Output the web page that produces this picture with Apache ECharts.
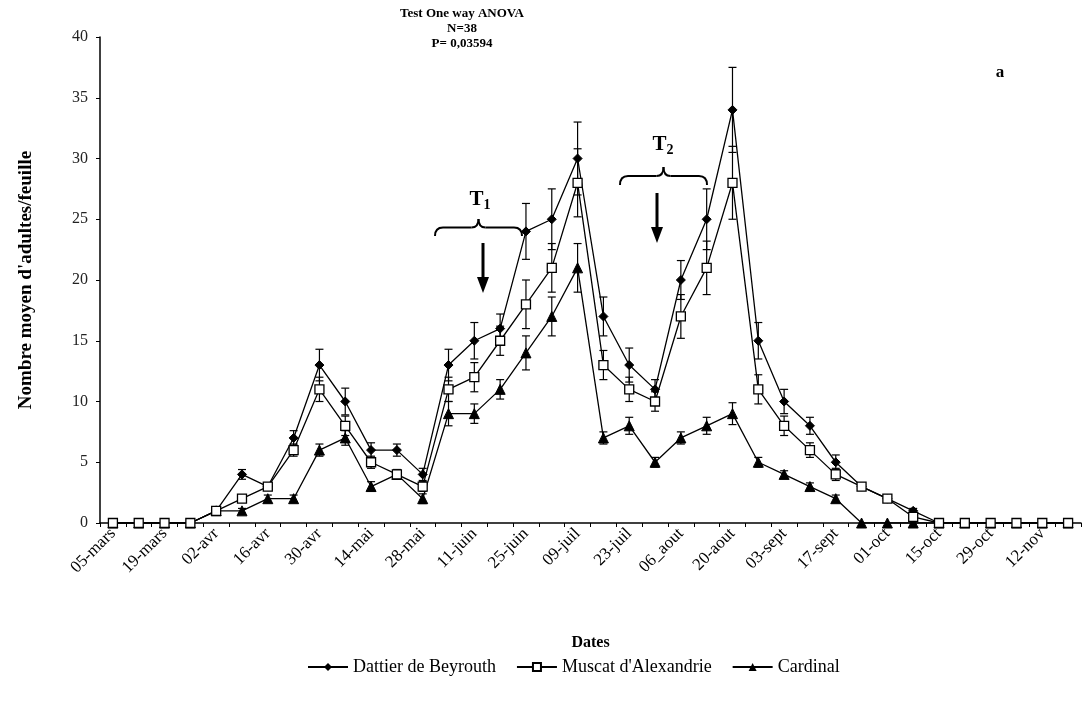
<!DOCTYPE html>
<html>
<head>
<meta charset="utf-8">
<script src="https://cdn.jsdelivr.net/npm/echarts@6/dist/echarts.min.js"></script>
<style>
html,body{margin:0;padding:0;background:#fff;}
#chart{width:1085px;height:702px;}
</style>
</head>
<body>
<div id="chart"></div>
<script>
const categories = ['05-mars','12-mars','19-mars','26-mars','02-avr','09-avr','16-avr','23-avr','30-avr','07-mai','14-mai','21-mai','28-mai','04-juin','11-juin','18-juin','25-juin','02-juil','09-juil','16-juil','23-juil','30-juil','06_aout','13-aout','20-aout','27-aout','03-sept','10-sept','17-sept','24-sept','01-oct','08-oct','15-oct','22-oct','29-oct','05-nov','12-nov','19-nov'];
const seriesNames = ['Dattier de Beyrouth', "Muscat d'Alexandrie", 'Cardinal'];
const dattier = [0,0,0,0,1,4,3,7,13,10,6,6,4,13,15,16,24,25,30,17,13,11,20,25,34,15,10,8,5,3,2,1,0,0,0,0,0,0];
const muscat = [0,0,0,0,1,2,3,6,11,8,5,4,3,11,12,15,18,21,28,13,11,10,17,21,28,11,8,6,4,3,2,0.5,0,0,0,0,0,0];
const cardinal = [0,0,0,0,1,1,2,2,6,7,3,4,2,9,9,11,14,17,21,7,8,5,7,8,9,5,4,3,2,0,0,0,0,0,0,0,0,0];
const dattierErr = [0,0,0,0,0.2,0.4,0.3,0.6,1.3,1.1,0.6,0.5,0.5,1.3,1.5,1.2,2.3,2.5,3,1.6,1.4,0.8,1.6,2.5,3.5,1.5,1,0.7,0.6,0.3,0.2,0.2,0,0,0,0,0,0];
const muscatErr = [0,0,0,0,0.2,0.3,0.3,0.5,1,0.8,0.5,0.4,0.4,1,1.2,1.2,2,2,2.8,1.2,1,0.8,1.8,2.2,3,1.2,0.8,0.6,0.5,0.3,0.2,0.1,0,0,0,0,0,0];
const cardinalErr = [0,0,0,0,0.2,0.2,0.3,0.3,0.5,0.6,0.4,0.4,0.4,1,0.8,0.8,1.4,1.6,2,0.5,0.7,0.4,0.5,0.7,0.9,0.4,0.3,0.3,0.3,0,0,0,0,0,0,0,0,0];
const yTicks = {min:0, max:40, interval:5};
const titleLines = ['Test One way ANOVA','N=38','P= 0,03594'];

const FONT = '"Liberation Serif","Times New Roman",serif';
const chart = echarts.init(document.getElementById('chart'), null, {renderer:'canvas'});

function errSeries(vals, errs){
  return {
    type:'custom',
    z:2,
    silent:true,
    encode:{x:0,y:1},
    data: vals.map((v,i)=>[i,v,errs[i]]),
    renderItem:function(params, api){
      const i = api.value(0), v = api.value(1), e = api.value(2);
      if(!e) return null;
      const top = api.coord([i, v+e]);
      const bot = api.coord([i, v-e]);
      const hw = 4;
      const st = {stroke:'#000', lineWidth:1.2};
      return {type:'group', children:[
        {type:'line', shape:{x1:top[0],y1:top[1],x2:bot[0],y2:bot[1]}, style:st},
        {type:'line', shape:{x1:top[0]-hw,y1:top[1],x2:top[0]+hw,y2:top[1]}, style:st},
        {type:'line', shape:{x1:bot[0]-hw,y1:bot[1],x2:bot[0]+hw,y2:bot[1]}, style:st}
      ]};
    }
  };
}

function brace(x0,x1,yPeak,yEnd){
  const xm=(x0+x1)/2, ym=(yPeak+yEnd)/2;
  const st={stroke:'#000', lineWidth:2, fill:null};
  return [
    {type:'bezierCurve', shape:{x1:x0,y1:yEnd,x2:x0+8,y2:ym,cpx1:x0,cpy1:ym}, style:st},
    {type:'line', shape:{x1:x0+8,y1:ym,x2:xm-7,y2:ym}, style:st},
    {type:'bezierCurve', shape:{x1:xm-7,y1:ym,x2:xm,y2:yPeak,cpx1:xm,cpy1:ym}, style:st},
    {type:'bezierCurve', shape:{x1:xm,y1:yPeak,x2:xm+7,y2:ym,cpx1:xm,cpy1:ym}, style:st},
    {type:'line', shape:{x1:xm+7,y1:ym,x2:x1-8,y2:ym}, style:st},
    {type:'bezierCurve', shape:{x1:x1-8,y1:ym,x2:x1,y2:yEnd,cpx1:x1,cpy1:ym}, style:st}
  ];
}

const lineStyleBase = {color:'#000', width:1.3};
const subRich = {t:{fontFamily:FONT, fontSize:21, fontWeight:'bold'}, s:{fontFamily:FONT, fontSize:14, fontWeight:'bold', padding:[10,0,0,0]}};
const option = {
  backgroundColor:'#fff',
  animation:false,
  grid:{left:100, right:4, top:37, bottom:179, containLabel:false},
  legend:{
    data:seriesNames,
    top:653, left:302,
    itemWidth:40, itemHeight:10, itemGap:20,
    textStyle:{fontFamily:FONT, fontSize:18, color:'#000'}
  },
  xAxis:{
    type:'category',
    data:categories,
    boundaryGap:true,
    name:'Dates',
    nameLocation:'middle',
    nameGap:112,
    nameTextStyle:{fontFamily:FONT, fontSize:16, fontWeight:'bold', color:'#000'},
    axisLine:{lineStyle:{color:'#000', width:1.5}},
    axisTick:{show:true, interval:0, length:4, lineStyle:{color:'#000'}},
    axisLabel:{interval:1, rotate:45, fontFamily:FONT, fontSize:17, color:'#000', margin:8}
  },
  yAxis:{
    type:'value',
    min:yTicks.min, max:yTicks.max, interval:yTicks.interval,
    name:"Nombre moyen d'adultes/feuille",
    nameLocation:'middle',
    nameGap:64,
    nameTextStyle:{fontFamily:FONT, fontSize:19, fontWeight:'bold', color:'#000'},
    axisLine:{show:true, lineStyle:{color:'#000', width:1.5}},
    axisTick:{show:true, length:4, lineStyle:{color:'#000'}},
    splitLine:{show:false},
    axisLabel:{fontFamily:FONT, fontSize:16, color:'#222', margin:12}
  },
  series:[
    errSeries(dattier, dattierErr),
    errSeries(muscat, muscatErr),
    errSeries(cardinal, cardinalErr),
    {name:seriesNames[0], type:'line', z:4, data:dattier, symbol:'diamond', symbolSize:9,
      lineStyle:lineStyleBase, itemStyle:{color:'#000', borderColor:'#000'}},
    {name:seriesNames[1], type:'line', z:5, data:muscat, symbol:'rect', symbolSize:9,
      lineStyle:lineStyleBase, itemStyle:{color:'#fff', borderColor:'#000', borderWidth:1.3}},
    {name:seriesNames[2], type:'line', z:3, data:cardinal, symbol:'triangle', symbolSize:10,
      lineStyle:lineStyleBase, itemStyle:{color:'#000', borderColor:'#000'}}
  ],
  graphic:[
    {type:'text', x:462, y:6, style:{text:titleLines.join('\n'), fontFamily:FONT, fontSize:13, fontWeight:'bold', fill:'#000', align:'center', lineHeight:15}},
    {type:'text', x:1000, y:64, style:{text:'a', fontFamily:FONT, fontSize:17, fontWeight:'bold', fill:'#000', align:'center'}},
    {type:'text', x:480, y:188, style:{text:'{t|T}{s|1}', fill:'#000', align:'center', rich:subRich}},
    {type:'text', x:663, y:133, style:{text:'{t|T}{s|2}', fill:'#000', align:'center', rich:subRich}},
    {type:'group', children: brace(435,522,219,236)},
    {type:'group', children: brace(620,707,167,185)},
    {type:'line', shape:{x1:483,y1:243,x2:483,y2:280}, style:{stroke:'#000', lineWidth:3}},
    {type:'polygon', shape:{points:[[477,277],[489,277],[483,293]]}, style:{fill:'#000'}},
    {type:'line', shape:{x1:657,y1:193,x2:657,y2:230}, style:{stroke:'#000', lineWidth:3}},
    {type:'polygon', shape:{points:[[651,227],[663,227],[657,243]]}, style:{fill:'#000'}}
  ]
};
chart.setOption(option);
</script>
</body>
</html>
